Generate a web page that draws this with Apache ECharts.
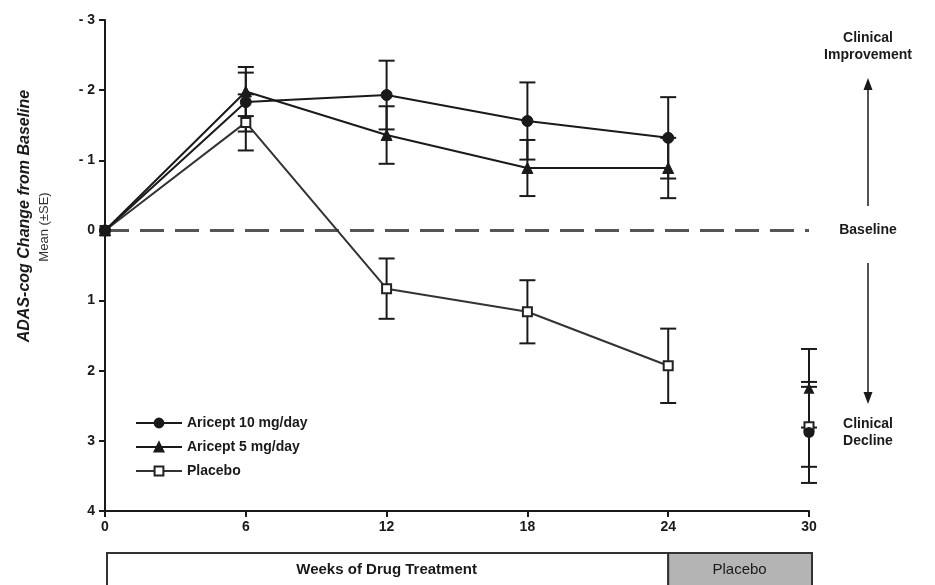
<!DOCTYPE html>
<html>
<head>
<meta charset="utf-8">
<script src="https://cdn.jsdelivr.net/npm/echarts@6/dist/echarts.min.js"></script>
<style>html,body{margin:0;padding:0;background:#fff}#c{width:935px;height:585px}</style>
</head>
<body>
<div id="c"></div>
<script>
// ---- data ----
const weeks = [0, 6, 12, 18, 24];
const aricept10 = [0, -1.83, -1.93, -1.56, -1.32];
const aricept10SE = [0, 0.42, 0.49, 0.55, 0.58];
const aricept5 = [0, -1.98, -1.36, -0.89, -0.89];
const aricept5SE = [0, 0.35, 0.41, 0.40, 0.43];
const placebo = [0, -1.54, 0.83, 1.16, 1.93];
const placeboSE = [0, 0.40, 0.43, 0.45, 0.53];
const washoutWeek = 30;
const washout10 = 2.88, washout10SE = 0.72;
const washout5 = 2.25, washout5SE = 0.56;
const washoutPlacebo = 2.80, washoutPlaceboSE = 0.57;
const xTicks = [0, 6, 12, 18, 24, 30];
const yTicks = [-3, -2, -1, 0, 1, 2, 3, 4];
const seriesNames = ['Aricept 10 mg/day', 'Aricept 5 mg/day', 'Placebo'];

const FONT = '"Liberation Sans", Arial, sans-serif';
const INK = '#1a1a1a';

function pts(xs, ys) { return xs.map((x, i) => [x, ys[i]]); }
function bars(xs, ys, se) { return xs.map((x, i) => [x, ys[i] - se[i], ys[i] + se[i]]).filter((d, i) => se[i] > 0); }

const errData = []
  .concat(bars(weeks, aricept10, aricept10SE))
  .concat(bars(weeks, aricept5, aricept5SE))
  .concat(bars(weeks, placebo, placeboSE))
  .concat(bars([washoutWeek], [washout10], [washout10SE]))
  .concat(bars([washoutWeek], [washout5], [washout5SE]))
  .concat(bars([washoutWeek], [washoutPlacebo], [washoutPlaceboSE]));

const chart = echarts.init(document.getElementById('c'), null, {renderer: 'canvas'});

const option = {
  animation: false,
  backgroundColor: '#fff',
  grid: {left: 105, right: 126, top: 20, bottom: 74},
  xAxis: {
    type: 'value', min: 0, max: 30, interval: 6,
    axisLine: {onZero: false, lineStyle: {color: INK, width: 2}},
    axisTick: {show: true, length: 6, lineStyle: {color: INK, width: 2}},
    splitLine: {show: false},
    axisLabel: {color: INK, fontFamily: FONT, fontWeight: 'bold', fontSize: 14, margin: 9,
      formatter: v => xTicks.includes(v) ? String(v) : ''}
  },
  yAxis: {
    type: 'value', min: -3, max: 4, interval: 1, inverse: true,
    axisLine: {show: true, onZero: false, lineStyle: {color: INK, width: 2}},
    axisTick: {show: true, length: 6, lineStyle: {color: INK, width: 2}},
    splitLine: {show: false},
    axisLabel: {color: INK, fontFamily: FONT, fontWeight: 'bold', fontSize: 14, margin: 10,
      formatter: v => yTicks.includes(v) ? (v < 0 ? '- ' + Math.abs(v) : String(v)) : ''}
  },
  legend: {
    data: seriesNames,
    orient: 'vertical', left: 130, top: 411,
    itemWidth: 46, itemHeight: 11, itemGap: 10,
    textStyle: {color: INK, fontFamily: FONT, fontWeight: 'bold', fontSize: 14},
    inactiveColor: '#999'
  },
  series: [
    {
      name: 'baseline', type: 'line', data: [[0, 0], [30, 0]], symbol: 'none', silent: true, z: 1,
      lineStyle: {color: '#555', width: 3, type: [24, 11]}
    },
    {
      name: 'errorbars', type: 'custom', z: 2, silent: true,
      data: errData,
      encode: {x: 0, y: [1, 2]},
      renderItem: function (params, api) {
        const x = api.value(0);
        const p1 = api.coord([x, api.value(1)]);
        const p2 = api.coord([x, api.value(2)]);
        const hw = 8;
        const st = {stroke: INK, lineWidth: 2};
        return {
          type: 'group',
          children: [
            {type: 'line', shape: {x1: p1[0], y1: p1[1], x2: p2[0], y2: p2[1]}, style: st},
            {type: 'line', shape: {x1: p1[0] - hw, y1: p1[1], x2: p1[0] + hw, y2: p1[1]}, style: st},
            {type: 'line', shape: {x1: p2[0] - hw, y1: p2[1], x2: p2[0] + hw, y2: p2[1]}, style: st}
          ]
        };
      }
    },
    {
      name: seriesNames[2], type: 'line', data: pts(weeks, placebo), z: 3,
      symbol: 'rect', symbolSize: 9,
      lineStyle: {color: '#333', width: 2},
      itemStyle: {color: '#fff', borderColor: '#222', borderWidth: 2}
    },
    {
      name: seriesNames[1], type: 'line', data: pts(weeks, aricept5), z: 4,
      symbol: 'triangle', symbolSize: 11,
      lineStyle: {color: INK, width: 2},
      itemStyle: {color: INK, borderColor: INK, borderWidth: 1}
    },
    {
      name: seriesNames[0], type: 'line', data: pts(weeks, aricept10), z: 5,
      symbol: 'circle', symbolSize: 11,
      lineStyle: {color: INK, width: 2},
      itemStyle: {color: INK, borderColor: INK, borderWidth: 1}
    },
    {
      name: 'washoutPlacebo', type: 'scatter', data: [[washoutWeek, washoutPlacebo]], z: 3,
      symbol: 'rect', symbolSize: 9,
      itemStyle: {color: '#fff', borderColor: '#222', borderWidth: 2, opacity: 1}
    },
    {
      name: 'washout5', type: 'scatter', data: [[washoutWeek, washout5]], z: 4,
      symbol: 'triangle', symbolSize: 11,
      itemStyle: {color: INK, opacity: 1}
    },
    {
      name: 'washout10', type: 'scatter', data: [[washoutWeek, washout10]], z: 5,
      symbol: 'circle', symbolSize: 11,
      itemStyle: {color: INK, opacity: 1}
    }
  ]
};
chart.setOption(option);

// annotation layer positioned from axis scale
const p0 = chart.convertToPixel({gridIndex: 0}, [0, 0]);
const p24 = chart.convertToPixel({gridIndex: 0}, [24, 0]);
const p30 = chart.convertToPixel({gridIndex: 0}, [30, 0]);
const arrowX = 868;
const boxTop = 553;
chart.setOption({
  graphic: [
    {type: 'text', x: 25, y: 216, rotation: Math.PI / 2,
      style: {text: 'ADAS-cog Change from Baseline', fill: INK, font: 'bold italic 16px ' + FONT, textAlign: 'center', textVerticalAlign: 'middle'}},
    {type: 'text', x: 44, y: 227, rotation: Math.PI / 2,
      style: {text: 'Mean (±SE)', fill: '#333', font: '13px ' + FONT, textAlign: 'center', textVerticalAlign: 'middle'}},
    {type: 'text', x: arrowX, y: 47,
      style: {text: 'Clinical\nImprovement', fill: INK, font: 'bold 14px ' + FONT, textAlign: 'center', textVerticalAlign: 'middle', lineHeight: 17}},
    {type: 'text', x: arrowX, y: p0[1],
      style: {text: 'Baseline', fill: INK, font: 'bold 14px ' + FONT, textAlign: 'center', textVerticalAlign: 'middle'}},
    {type: 'text', x: arrowX, y: 433,
      style: {text: 'Clinical\nDecline', fill: INK, font: 'bold 14px ' + FONT, textAlign: 'center', textVerticalAlign: 'middle', lineHeight: 17}},
    {type: 'line', shape: {x1: arrowX, y1: 206, x2: arrowX, y2: 86}, style: {stroke: INK, lineWidth: 1.5}},
    {type: 'polygon', shape: {points: [[arrowX, 78], [arrowX - 4.5, 90], [arrowX + 4.5, 90]]}, style: {fill: INK}},
    {type: 'line', shape: {x1: arrowX, y1: 263, x2: arrowX, y2: 396}, style: {stroke: INK, lineWidth: 1.5}},
    {type: 'polygon', shape: {points: [[arrowX, 404], [arrowX - 4.5, 392], [arrowX + 4.5, 392]]}, style: {fill: INK}},
    {type: 'rect', shape: {x: p0[0] + 2, y: boxTop, width: p24[0] - p0[0] - 2, height: 50},
      style: {fill: '#fff', stroke: '#333', lineWidth: 2}},
    {type: 'rect', shape: {x: p24[0], y: boxTop, width: p30[0] - p24[0] + 3, height: 50},
      style: {fill: '#b4b4b4', stroke: '#333', lineWidth: 2}},
    {type: 'text', x: (p0[0] + p24[0]) / 2, y: 570,
      style: {text: 'Weeks of Drug Treatment', fill: INK, font: 'bold 15px ' + FONT, textAlign: 'center', textVerticalAlign: 'middle'}},
    {type: 'text', x: (p24[0] + p30[0]) / 2 + 1, y: 570,
      style: {text: 'Placebo', fill: INK, font: '15px ' + FONT, textAlign: 'center', textVerticalAlign: 'middle'}}
  ]
});
</script>
</body>
</html>
